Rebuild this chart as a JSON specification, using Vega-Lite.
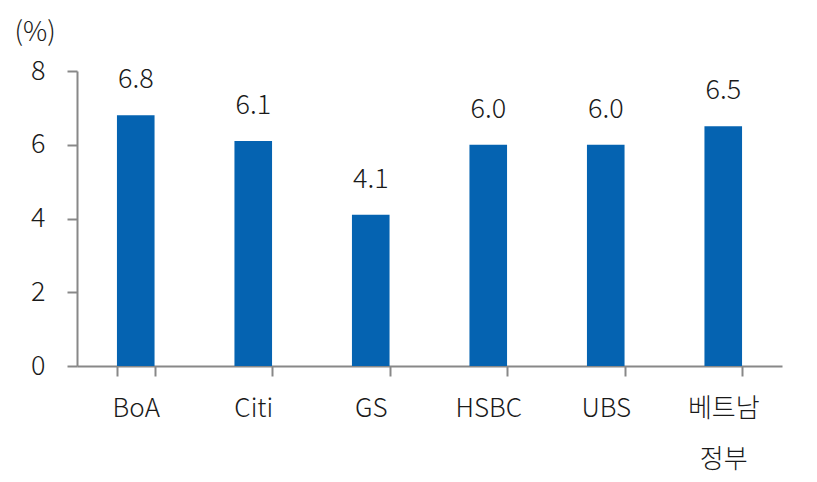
{
  "$schema": "https://vega.github.io/schema/vega-lite/v6.json",
  "autosize": "none",
  "width": 705,
  "height": 295,
  "padding": {"left": 77, "top": 71, "right": 35, "bottom": 116},
  "background": "white",
  "config": {
    "view": {"stroke": null},
    "font": "Noto Sans CJK KR"
  },
  "data": {
    "values": [
      {"bank": "BoA", "value": 6.8},
      {"bank": "Citi", "value": 6.1},
      {"bank": "GS", "value": 4.1},
      {"bank": "HSBC", "value": 6.0},
      {"bank": "UBS", "value": 6.0},
      {"bank": "베트남 정부", "value": 6.5}
    ]
  },
  "encoding": {
    "x": {
      "field": "bank",
      "type": "nominal",
      "sort": null,
      "scale": {"paddingInner": 0.68, "paddingOuter": 0.34},
      "axis": {
        "title": null,
        "labelAngle": 0,
        "labelFont": "Noto Sans CJK KR",
        "labelFontSize": 26,
        "labelFontWeight": 300,
        "labelColor": "#1a1a1a",
        "labelPadding": 19,
        "labelLineHeight": 51,
        "labelExpr": "datum.label == '베트남 정부' ? ['베트남', '정부'] : datum.label",
        "tickBand": "extent",
        "tickSize": 10,
        "tickColor": "#888888",
        "tickWidth": 2,
        "domainColor": "#888888",
        "domainWidth": 2
      }
    },
    "y": {
      "field": "value",
      "type": "quantitative",
      "scale": {"domain": [0, 8]},
      "axis": {
        "title": "(%)",
        "titleAngle": 0,
        "titleAlign": "left",
        "titleBaseline": "alphabetic",
        "titleX": -63,
        "titleY": -31,
        "titleFont": "Noto Sans CJK KR",
        "titleFontSize": 27,
        "titleFontWeight": 300,
        "titleColor": "#1a1a1a",
        "values": [0, 2, 4, 6, 8],
        "grid": false,
        "labelFont": "Noto Sans CJK KR",
        "labelFontSize": 27,
        "labelFontWeight": 300,
        "labelColor": "#1a1a1a",
        "labelPadding": 22,
        "tickSize": 10,
        "tickColor": "#888888",
        "tickWidth": 2,
        "domainColor": "#888888",
        "domainWidth": 2
      }
    }
  },
  "layer": [
    {"mark": {"type": "bar", "color": "#0563B1"}},
    {
      "mark": {"type": "text", "baseline": "alphabetic", "dy": -27, "fontSize": 27, "fontWeight": 300, "color": "#1a1a1a", "font": "Noto Sans CJK KR"},
      "encoding": {"text": {"field": "value", "type": "quantitative", "format": ".1f"}}
    }
  ]
}
